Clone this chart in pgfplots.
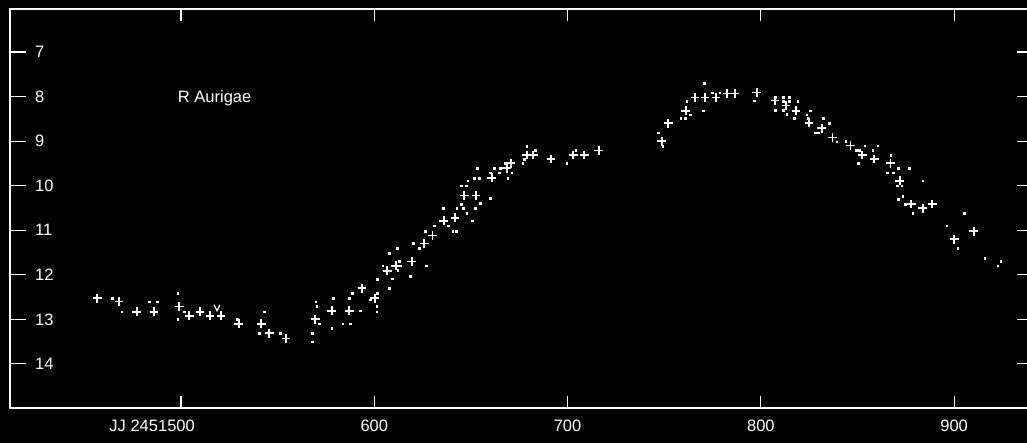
\documentclass[border=0pt]{standalone}
\usepackage{fontspec}
\setmainfont{Liberation Sans}
\usepackage{pgfplots}
\pgfplotsset{compat=1.18}
\pgfdeclareplotmark{vee}{%
  \pgfpathmoveto{\pgfqpoint{-\pgfplotmarksize}{\pgfplotmarksize}}%
  \pgfpathlineto{\pgfqpoint{0pt}{-\pgfplotmarksize}}%
  \pgfpathlineto{\pgfqpoint{\pgfplotmarksize}{\pgfplotmarksize}}%
  \pgfusepathqstroke}
\begin{document}
\begin{tikzpicture}
\useasboundingbox (0,0) rectangle (1027pt,443pt);
\clip (0,0) rectangle (1027pt,443pt);
\fill[black] (0,0) rectangle (1027pt,443pt);
\begin{axis}[
  at={(10pt,35pt)}, anchor=south west,
  scale only axis, width=1023pt, height=399pt,
  xmin=411.5, xmax=940.8, ymin=6.035, ymax=14.99,
  y dir=reverse,
  axis line style={white, line width=1.2pt},
  every tick/.style={white, line width=1.2pt},
  tick align=inside,
  major tick length=12pt,
  xtick={500,600,700,800,900},
  xticklabels={\llap{JJ 2451}500,600,700,800,900},
  ytick=\empty,
  extra y ticks={7,8,9,10,11,12,13,14},
  extra y tick labels={7,8,9,10,11,12,13,14},
  extra y tick style={major tick length=16pt, tick align=inside},
  /pgf/number format/assume math mode=true,
  ticklabel style={text=white, font=\fontsize{16.5}{18}\selectfont, inner sep=0pt},
  xticklabel style={anchor=north, yshift=-12pt},
  yticklabel style={anchor=west, xshift=25pt},
  clip=false,
]
\addplot[only marks, mark=+, mark size=4.4pt, white, line width=1.8pt] coordinates {
(456.7,12.53) (467.9,12.60) (477.1,12.83) (486.0,12.83) (499.1,12.71)
(504.3,12.92) (509.8,12.83) (515.0,12.92) (520.7,12.92) (529.8,13.10)
(541.5,13.10) (545.7,13.31) (554.3,13.43) (569.5,13.00) (578.0,12.81)
(587.0,12.81) (593.6,12.30) (600.2,12.53) (606.7,11.91) (611.1,11.80)
(619.3,11.70) (625.8,11.30) (630.1,11.12) (635.9,10.79) (641.7,10.72)
(646.6,10.22) (652.6,10.22) (660.7,9.82) (668.5,9.61) (670.7,9.50)
(678.8,9.31) (682.3,9.31) (691.4,9.40) (703.0,9.31) (708.6,9.31)
(716.2,9.21) (748.7,9.00) (752.1,8.60) (761.1,8.32) (765.9,8.02)
(771.1,8.02) (776.8,8.02) (782.6,7.93) (786.6,7.93) (797.8,7.91)
(807.3,8.09) (813.0,8.20) (818.2,8.32) (824.9,8.59) (831.5,8.71)
(837.1,8.92) (846.4,9.10) (852.4,9.31) (858.6,9.40) (867.1,9.50)
(871.9,9.89) (877.8,10.41) (883.7,10.51) (888.7,10.41) (900.0,11.20)
(910.2,11.02)
};
\addplot[only marks, mark=square*, mark size=0.8pt, white] coordinates {
(464.5,12.53) (469.3,12.83) (483.4,12.60) (487.7,12.60) (498.3,12.41)
(498.3,13.00) (501.7,12.83) (529.1,13.00) (543.1,12.83) (540.5,13.31)
(551.2,13.31) (567.9,13.31) (567.9,13.50) (570.2,12.70) (569.7,12.60)
(571.4,13.10) (578.8,12.53) (578.0,13.20) (583.6,13.10) (587.6,13.10)
(587.1,12.53) (588.6,12.42) (592.8,12.81) (597.8,12.56) (601.5,12.41)
(601.2,12.71) (601.2,12.83) (601.5,12.10) (607.8,12.30) (609.3,12.09)
(604.3,11.80) (607.6,11.52) (611.9,11.40) (613.0,11.70) (613.5,11.80)
(612.0,11.90) (618.5,12.03) (620.2,11.29) (623.3,11.40) (626.7,11.80)
(626.2,11.02) (630.9,10.90) (635.7,10.51) (638.3,10.90) (640.5,11.02)
(642.3,11.02) (642.6,10.50) (645.0,10.41) (646.0,10.50) (647.8,10.62)
(650.7,10.79) (652.1,10.51) (644.9,10.00) (647.4,10.00) (648.3,9.89)
(651.7,9.83) (654.3,9.83) (654.7,10.39) (653.3,9.61) (659.9,10.28)
(660.0,9.71) (662.0,9.61) (664.5,9.71) (665.0,9.61) (669.0,9.83)
(667.6,9.50) (671.1,9.71) (677.4,9.40) (676.8,9.50) (678.8,9.11)
(683.1,9.21) (699.5,9.50) (704.2,9.21) (746.9,8.81) (749.2,9.11)
(770.7,7.70) (761.6,8.10) (758.5,8.49) (760.7,8.49) (763.3,8.41)
(770.2,8.32) (774.9,7.91) (778.8,7.91) (796.5,8.09) (807.3,8.02)
(811.6,8.02) (814.7,8.02) (811.6,8.10) (814.7,8.10) (807.3,8.30)
(811.6,8.30) (813.3,8.40) (819.0,8.10) (817.3,8.49) (823.7,8.41)
(824.2,8.49) (825.4,8.32) (828.0,8.81) (829.7,8.81) (832.3,8.49)
(835.4,8.60) (839.2,9.01) (844.0,9.00) (849.2,9.20) (850.9,9.20)
(850.4,9.50) (853.8,9.10) (860.4,9.10) (857.8,9.21) (867.1,9.31)
(865.5,9.71) (868.4,9.71) (871.1,9.61) (876.8,9.61) (872.8,10.00)
(870.5,10.00) (873.3,10.23) (871.1,10.31) (874.6,10.41) (878.5,10.62)
(883.7,9.89) (905.2,10.62) (896.1,10.90) (901.8,11.40) (915.9,11.63)
(922.5,11.80) (924.0,11.70)
};
\addplot[only marks, mark=vee, mark size=3pt, white, line width=1.2pt] coordinates {(518.6,12.74)};
\node[anchor=base west, inner sep=0pt, text=white, font=\fontsize{16.5}{18}\selectfont] at (axis cs:498.3,8.14) {R Aurigae};
\end{axis}
\end{tikzpicture}
\end{document}
